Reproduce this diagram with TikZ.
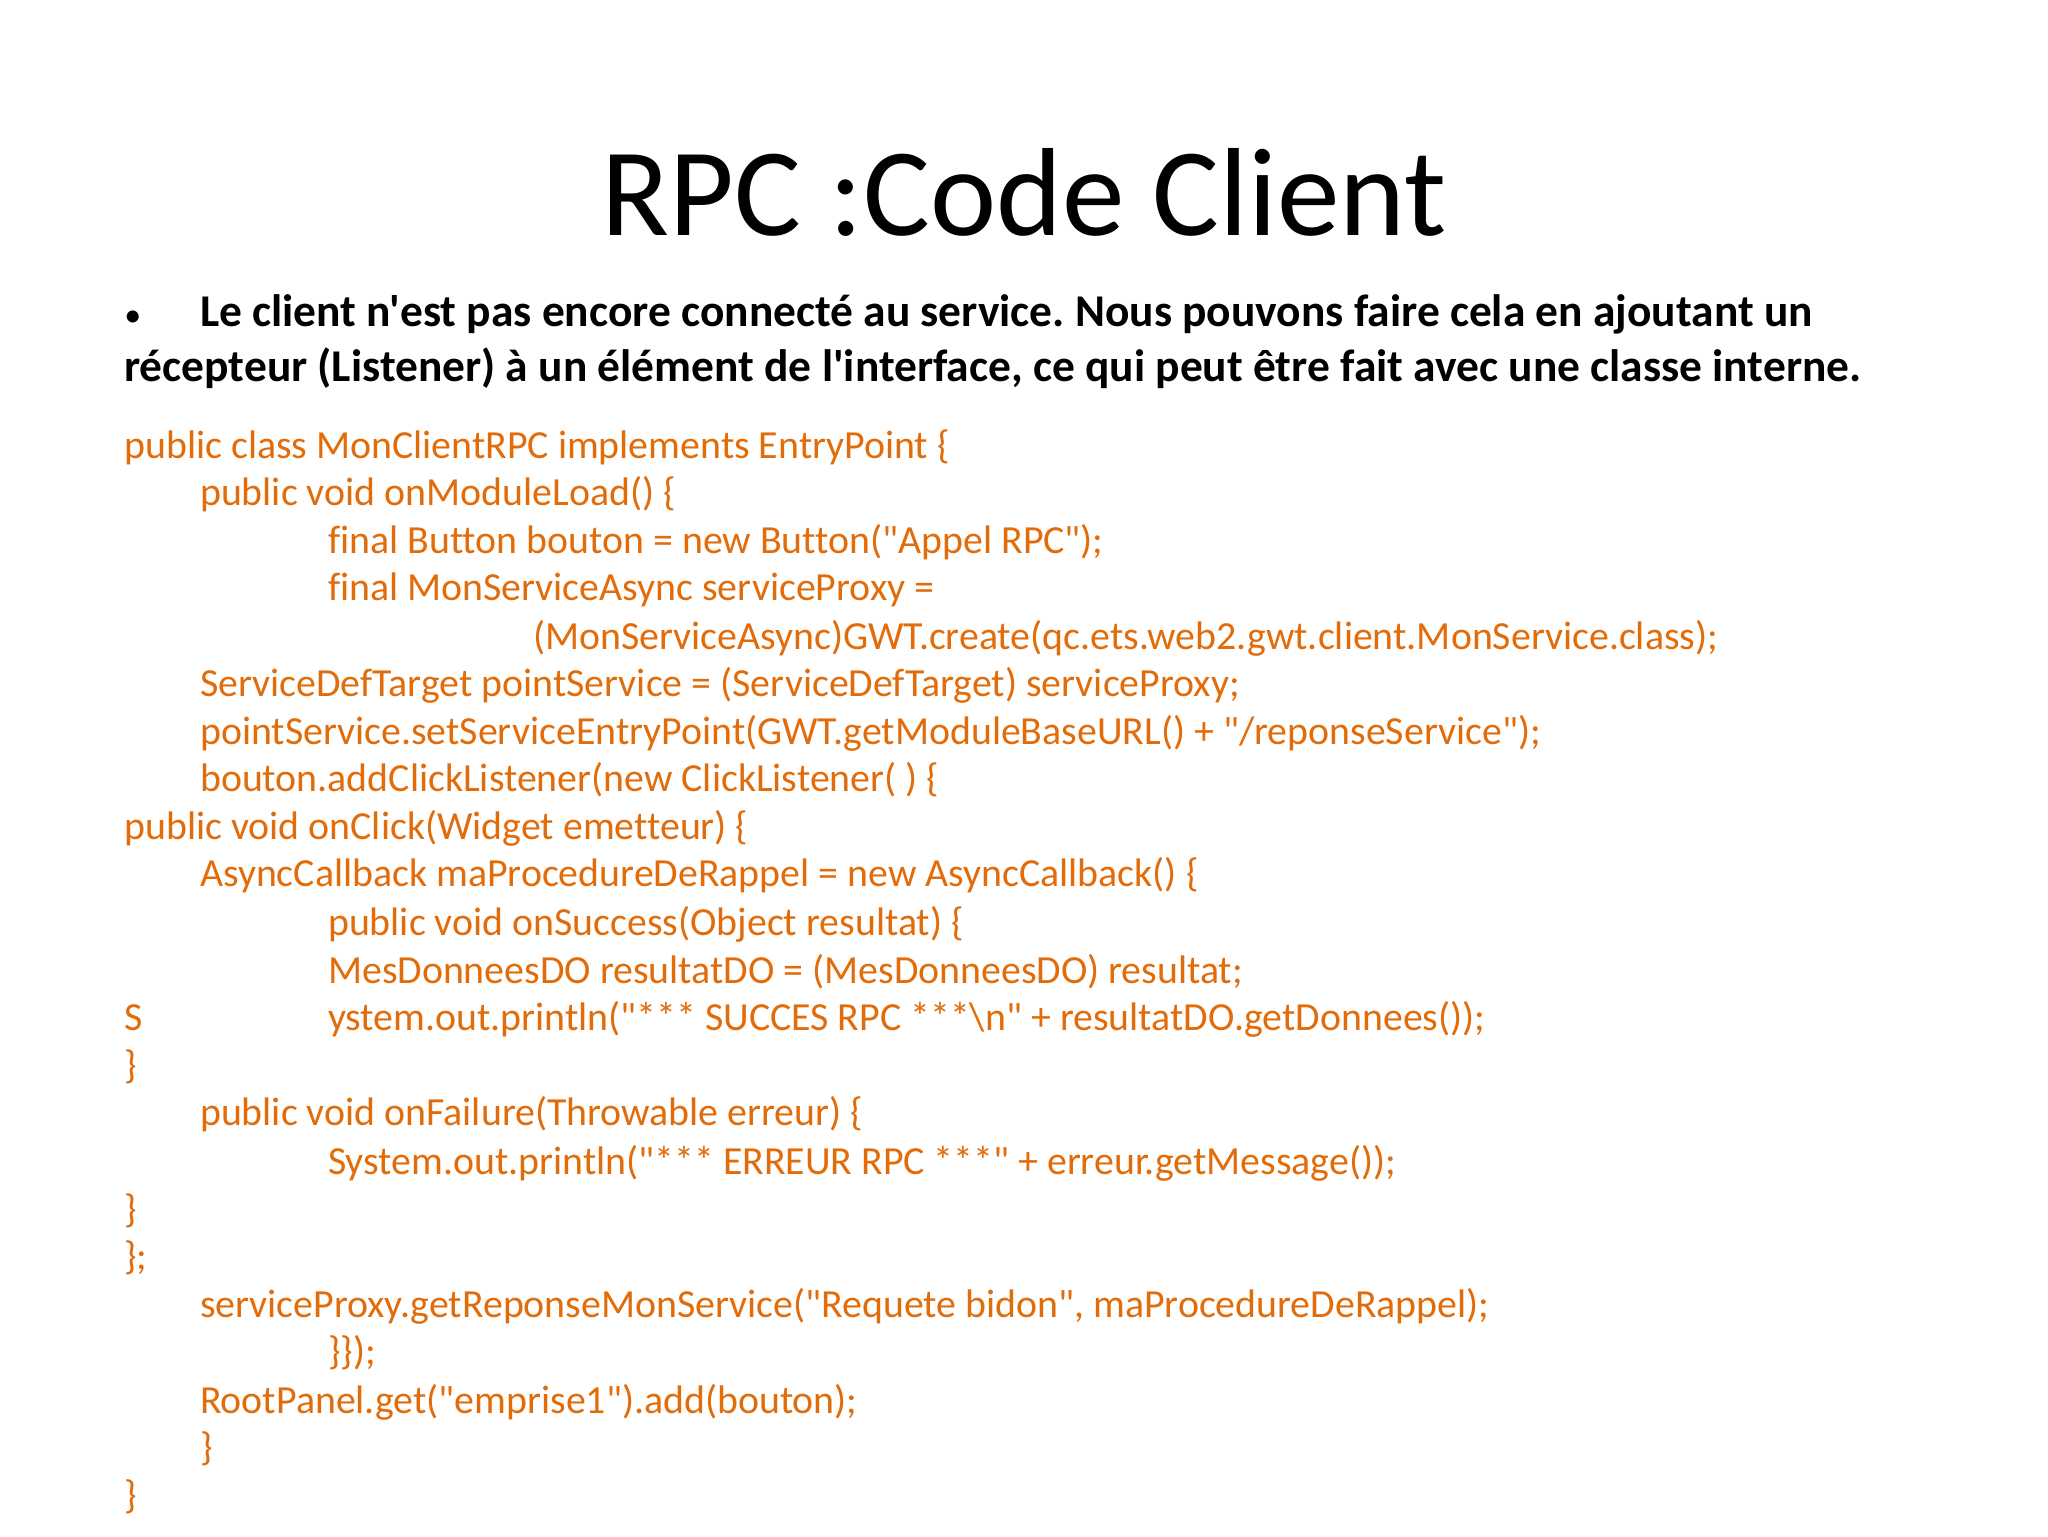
\documentclass[tikz,border=0pt]{standalone}
\usepackage{fontspec}
\setmainfont{Carlito}[Ligatures={TeXOff,NoCommon}]
\frenchspacing
\definecolor{codeor}{RGB}{226,108,10}
\begin{document}
\begin{tikzpicture}[x=1pt,y=-1pt,
  code/.style={anchor=base west,inner sep=0,text=codeor,font=\fontsize{30.5}{32}\selectfont},
  bul/.style={anchor=base west,inner sep=0,font=\fontsize{34.8}{36}\selectfont\bfseries}]
\useasboundingbox[fill=white] (0,0) rectangle (1568,1176);
\node[anchor=base,inner sep=0,font=\fontsize{96}{96}\selectfont] (title) at (784,180) {RPC :Code Client};
\node[anchor=base west,inner sep=0,font=\fontsize{26}{28}\selectfont] (b0) at (95,250) {•};
\node[bul] (b1) at (153,250) {Le client n'est pas encore connecté au service. Nous pouvons faire cela en ajoutant un};
\node[bul] (b2) at (95,292) {récepteur (Listener) à un élément de l'interface, ce qui peut être fait avec une classe interne.};
\def\A{95}\def\B{153}\def\C{251}\def\D{408}
\node[code] (c1) at (\A,351) {public class MonClientRPC implements EntryPoint \{};
\node[code] (c2) at (\B,387) {public void onModuleLoad() \{};
\node[code] (c3) at (\C,424) {final Button bouton = new Button("Appel RPC");};
\node[code] (c4) at (\C,460) {final MonServiceAsync serviceProxy =};
\node[code] (c5) at (\D,497) {(MonServiceAsync)GWT.create(qc.ets.web2.gwt.client.MonService.class);};
\node[code] (c6) at (\B,533) {ServiceDefTarget pointService = (ServiceDefTarget) serviceProxy;};
\node[code] (c7) at (\B,570) {pointService.setServiceEntryPoint(GWT.getModuleBaseURL() + "/reponseService");};
\node[code] (c8) at (\B,606) {bouton.addClickListener(new ClickListener( ) \{};
\node[code] (c9) at (\A,643) {public void onClick(Widget emetteur) \{};
\node[code] (c10) at (\B,679) {AsyncCallback maProcedureDeRappel = new AsyncCallback() \{};
\node[code] (c11) at (\C,716) {public void onSuccess(Object resultat) \{};
\node[code] (c12) at (\C,753) {MesDonneesDO resultatDO = (MesDonneesDO) resultat;};
\node[code] (c13a) at (\A,789) {S};
\node[code] (c13) at (\C,789) {ystem.out.println("*** SUCCES RPC ***\textbackslash n" + resultatDO.getDonnees());};
\node[code] (c14) at (\A,826) {\}};
\node[code] (c15) at (\B,862) {public void onFailure(Throwable erreur) \{};
\node[code] (c16) at (\C,899) {System.out.println("*** ERREUR RPC ***" + erreur.getMessage());};
\node[code] (c17) at (\A,936) {\}};
\node[code] (c18) at (\A,972) {\};};
\node[code] (c19) at (\B,1009) {serviceProxy.getReponseMonService("Requete bidon", maProcedureDeRappel);};
\node[code] (c20) at (\C,1045) {\}\});};
\node[code] (c21) at (\B,1082) {RootPanel.get("emprise1").add(bouton);};
\node[code] (c22) at (\B,1118) {\}};
\node[code] (c23) at (\A,1155) {\}};
\end{tikzpicture}
\end{document}
